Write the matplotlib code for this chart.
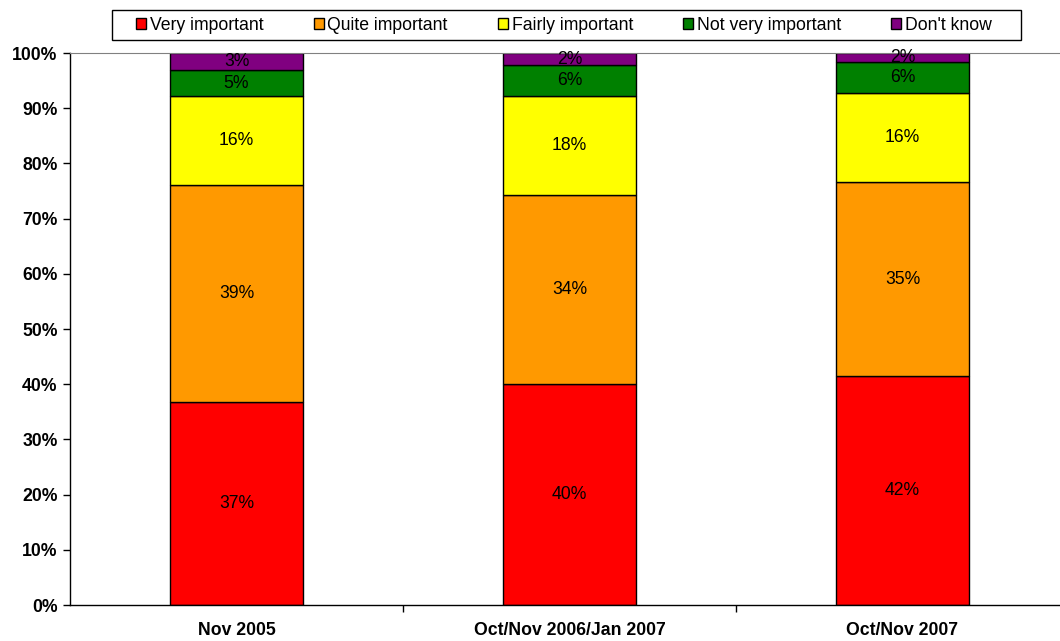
import matplotlib
matplotlib.use("Agg")
import matplotlib.pyplot as plt
from matplotlib.patches import Rectangle
import numpy as np

categories = ["Nov 2005", "Oct/Nov 2006/Jan 2007", "Oct/Nov 2007"]
series_names = ["Very important", "Quite important", "Fairly important", "Not very important", "Don't know"]
very_important = [36.8, 40.0, 41.5]
quite_important = [39.3, 34.3, 35.1]
fairly_important = [16.1, 17.9, 16.2]
not_very_important = [4.7, 5.6, 5.6]
dont_know = [3.1, 2.2, 1.6]
labels = [
    ["37%", "40%", "42%"],
    ["39%", "34%", "35%"],
    ["16%", "18%", "16%"],
    ["5%", "6%", "6%"],
    ["3%", "2%", "2%"],
]
colors = ["#FF0000", "#FF9900", "#FFFF00", "#008000", "#800080"]
yticks = [0, 10, 20, 30, 40, 50, 60, 70, 80, 90, 100]

plt.rcParams['font.family'] = ['Liberation Sans', 'DejaVu Sans']

FS = 12.7
W, H = 1060, 641
fig = plt.figure(figsize=(W / 100, H / 100), dpi=100)
ax = fig.add_axes([70/W, 1-605/H, (1069-70)/W, (605-53)/H])

series = [very_important, quite_important, fairly_important, not_very_important, dont_know]
x = np.arange(len(categories))
bottom = np.zeros(len(categories))
handles = []
for vals, col, name, labs in zip(series, colors, series_names, labels):
    vals = np.array(vals)
    b = ax.bar(x, vals, 0.4, bottom=bottom, color=col, edgecolor="black", linewidth=1, label=name)
    handles.append(b)
    for xi, v, bt, lab in zip(x, vals, bottom, labs):
        ax.text(xi, bt + v / 2, lab, ha="center", va="center", fontsize=FS, color="black")
    bottom += vals

ax.set_xlim(-0.5, 2.5)
ax.set_ylim(0, 100)
ax.set_yticks(yticks)
ax.set_yticklabels([f"{t}%" for t in yticks], fontsize=FS, fontweight="bold")
ax.set_xticks(x)
ax.set_xticklabels(categories, fontsize=FS, fontweight="bold")
ax.set_xticks([0.5, 1.5], minor=True)
ax.tick_params(axis="x", which="major", length=0, pad=12)
ax.tick_params(axis="x", which="minor", length=5, direction="out", width=1)
ax.tick_params(axis="y", length=5, direction="out", width=1, pad=4)

ax.spines["top"].set_color("#808080")
ax.spines["right"].set_visible(False)
for s in ["left", "bottom"]:
    ax.spines[s].set_color("black")
    ax.spines[s].set_linewidth(1)

# legend box frame drawn separately
fig.patches.append(Rectangle((112/W, 1-40/H), (1021-112)/W, 30/H, transform=fig.transFigure,
                             facecolor="white", edgecolor="black", linewidth=1, zorder=1))
leg = fig.legend(handles=handles, labels=series_names, loc="center",
                 bbox_to_anchor=(564 / W, 1 - 25 / H),
                 ncol=5, frameon=False, fontsize=FS,
                 handlelength=0.57, handleheight=0.57, handletextpad=0.2,
                 columnspacing=2.85, borderpad=0.2, borderaxespad=0)
leg.set_zorder(2)
for h in leg.legend_handles:
    h.set_linewidth(1)

fig.savefig("out.png", dpi=100)
